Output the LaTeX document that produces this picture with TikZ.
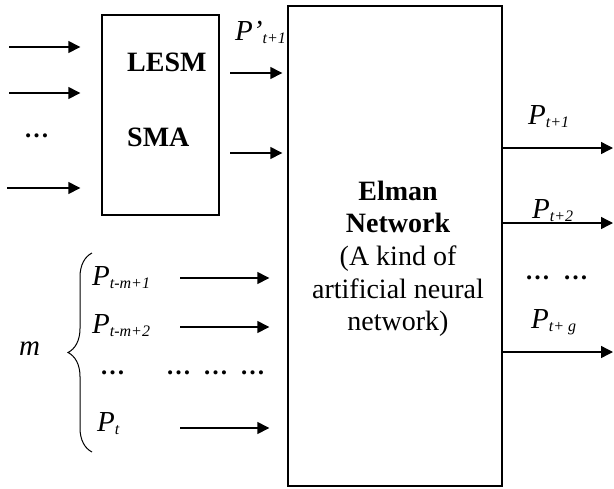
\documentclass[tikz,border=0pt]{standalone}
\usepackage{fontspec}
\setmainfont{Liberation Serif}
\usetikzlibrary{arrows.meta,decorations.pathreplacing,calc}
\newcommand{\Psub}[2][]{\textit{P#1}\raisebox{-3pt}{\fontsize{16}{16}\selectfont\textit{#2}}}
\begin{document}
\begin{tikzpicture}[x=1pt,y=-1pt,
  arr/.style={line width=1.4pt,-{Triangle[length=12pt,width=12pt]}},
  box/.style={draw,line width=1.4pt,inner sep=0pt},
  bt/.style={font=\fontsize{28}{28}\selectfont\bfseries,inner sep=0pt,anchor=base},
  rt/.style={font=\fontsize{28}{28}\selectfont,inner sep=0pt,anchor=base},
  lab/.style={font=\fontsize{29}{29}\selectfont,inner sep=0pt,anchor=base west},
  dots/.style={font=\fontsize{25}{25}\selectfont\bfseries,inner sep=0pt,anchor=base west},
]
\useasboundingbox (0,0) rectangle (614,488);

% LESM / SMA box
\node[box,minimum width=117pt,minimum height=200pt] (lesm) at (160.5,115) {};
\node[bt,anchor=base west] (tlesm) at (127,71) {LESM};
\node[bt,anchor=base west] (tsma) at (127,146) {SMA};

% label partly hidden by Elman box
\node[lab] (pp) at (235,40) {\Psub[’]{t+1}};

% Elman box
\node[box,fill=white,minimum width=214pt,minimum height=480pt] (elman) at (395,246) {};
\node[bt] (e1) at (398,200) {Elman};
\node[bt] (e2) at (398,232) {Network};
\node[rt] (e3) at (398,265) {(A kind of};
\node[rt] (e4) at (398,298) {artificial neural};
\node[rt] (e5) at (398,330) {network)};

% inputs to LESM
\coordinate (a1) at (9,47);
\coordinate (a2) at (9,93);
\coordinate (a3) at (7,188);
\foreach \c in {a1,a2,a3}
  \draw[arr] (\c) -- ($(\c -| lesm.west)+(-21,0)$);
\node[dots] (ld) at (24,137.5) {…};

% LESM outputs
\coordinate (b1) at (230,73);
\coordinate (b2) at (230,153);
\foreach \c in {b1,b2}
  \draw[arr] (\c) -- ($(\c -| elman.west)+(-5,0)$);

% outputs of Elman
\coordinate (c1) at (613,148);
\coordinate (c2) at (613,223);
\coordinate (c3) at (613,352);
\foreach \c in {c1,c2,c3}
  \draw[arr] (\c -| elman.east) -- (\c);
\node[lab] (o1) at (528,124) {\Psub{t+1}};
\node[lab] (o2) at (532,218) {\Psub{t+2}};
\node[dots] (od) at (525,279.5) {…\hspace{13pt}…};
\node[lab] (o3) at (531,328) {\Psub{t+ g}};

% lower inputs
\coordinate (d1) at (180,278);
\coordinate (d2) at (180,327);
\coordinate (d3) at (180,428);
\foreach \c in {d1,d2,d3}
  \draw[arr] (\c) -- ($(\c -| elman.west)+(-18,0)$);
\node[lab] (l1) at (92,285) {\Psub{t-m+1}};
\node[lab] (l2) at (92,333) {\Psub{t-m+2}};
\node[dots] (l3) at (100,374.5) {…};
\node[dots] (l4) at (166,374.5) {…\hspace{12pt}…\hspace{12pt}…};
\node[lab] (l5) at (97,431) {\Psub{t}};

% brace and m
\draw[line width=1pt,decorate,decoration={brace,amplitude=24pt}] (92,452) -- (92,253);
\node[lab] (m) at (19,355) {\textit{m}};
\end{tikzpicture}
\end{document}
